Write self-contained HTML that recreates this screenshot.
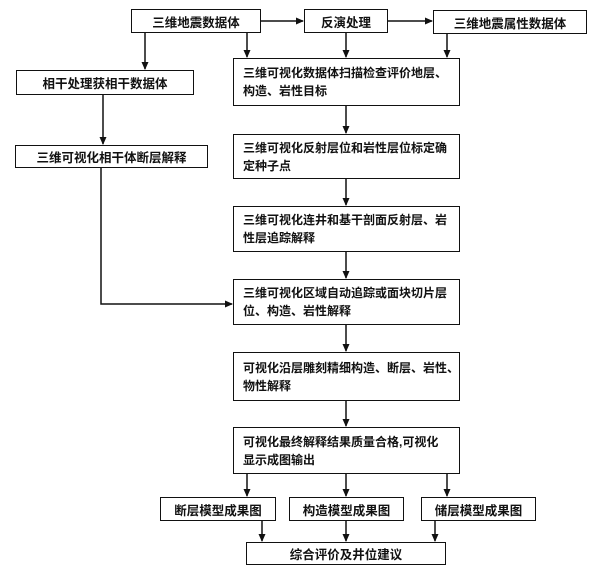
<!DOCTYPE html>
<html><head><meta charset="utf-8"><style>
body{margin:0;width:600px;height:570px;background:#fff;position:relative;overflow:hidden;font-family:"Liberation Sans","Noto Sans CJK SC",sans-serif;font-weight:bold;color:#111}
.b{position:absolute;border:1.6px solid #111;box-sizing:border-box;font-size:12.5px;display:flex;align-items:center;justify-content:center;background:#fff;white-space:nowrap}
.l{justify-content:flex-start;padding-left:9px;line-height:18px;font-size:12px;letter-spacing:0}
svg{position:absolute;left:0;top:0}
</style></head><body>
<svg width="600" height="570">
<defs><marker id="a" markerWidth="8" markerHeight="8" refX="7" refY="4" orient="auto" markerUnits="userSpaceOnUse"><path d="M0,0.5 L8,4 L0,7.5 Z" fill="#111"/></marker></defs>
<g stroke="#111" stroke-width="1.5" fill="none" marker-end="url(#a)">
<line x1="260" y1="21" x2="303" y2="21"/>
<line x1="387" y1="21" x2="432" y2="21"/>
<line x1="145" y1="32" x2="145" y2="69"/>
<line x1="247" y1="32" x2="247" y2="57"/>
<line x1="346" y1="32" x2="346" y2="57"/>
<line x1="447" y1="33" x2="447" y2="57"/>
<line x1="103" y1="94" x2="103" y2="144"/>
<line x1="346" y1="105" x2="346" y2="133"/>
<line x1="346" y1="178" x2="346" y2="205"/>
<line x1="346" y1="251" x2="346" y2="278"/>
<polyline points="101,167 101,304 232,304"/>
<line x1="346" y1="325" x2="346" y2="351"/>
<line x1="346" y1="400" x2="346" y2="426"/>
<line x1="247" y1="473" x2="247" y2="496"/>
<line x1="346" y1="473" x2="346" y2="496"/>
<line x1="447" y1="473" x2="447" y2="496"/>
<line x1="262" y1="520" x2="262" y2="541"/>
<line x1="346" y1="520" x2="346" y2="541"/>
<line x1="435" y1="520" x2="435" y2="541"/>
</g></svg>
<div class="b" style="left:131px;top:9px;width:130px;height:24px">三维地震数据体</div>
<div class="b" style="left:304px;top:9px;width:84px;height:24px">反演处理</div>
<div class="b" style="left:433px;top:10px;width:154px;height:24px">三维地震属性数据体</div>
<div class="b" style="left:16px;top:70px;width:178px;height:25px">相干处理获相干数据体</div>
<div class="b" style="left:15px;top:145px;width:193px;height:23px">三维可视化相干体断层解释</div>
<div class="b l" style="left:233px;top:58px;width:227px;height:48px">三维可视化数据体扫描检查评价地层、<br>构造、岩性目标</div>
<div class="b l" style="left:233px;top:134px;width:227px;height:45px">三维可视化反射层位和岩性层位标定确<br>定种子点</div>
<div class="b l" style="left:233px;top:206px;width:227px;height:46px">三维可视化连井和基干剖面反射层、岩<br>性层追踪解释</div>
<div class="b l" style="left:233px;top:279px;width:227px;height:46px">三维可视化区域自动追踪或面块切片层<br>位、构造、岩性解释</div>
<div class="b l" style="left:233px;top:352px;width:227px;height:49px">可视化沿层雕刻精细构造、断层、岩性、<br>物性解释</div>
<div class="b l" style="left:233px;top:427px;width:227px;height:47px">可视化最终解释结果质量合格,可视化<br>显示成图输出</div>
<div class="b" style="left:160px;top:497px;width:116px;height:24px">断层模型成果图</div>
<div class="b" style="left:289px;top:497px;width:115px;height:24px">构造模型成果图</div>
<div class="b" style="left:421px;top:497px;width:115px;height:24px">储层模型成果图</div>
<div class="b" style="left:246px;top:542px;width:200px;height:23px">综合评价及井位建议</div>
</body></html>
